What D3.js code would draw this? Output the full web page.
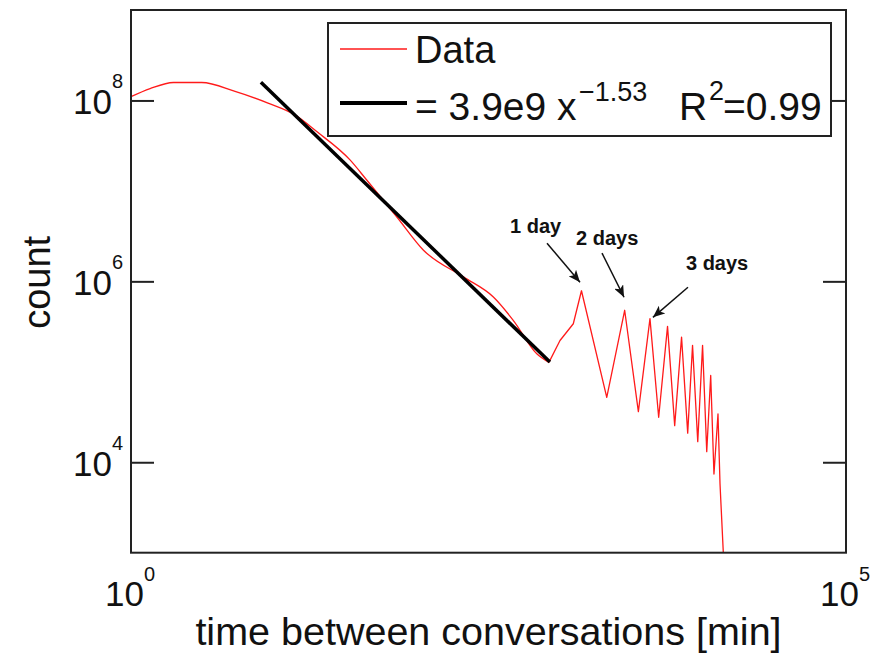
<!DOCTYPE html>
<html>
<head>
<meta charset="utf-8">
<script src="https://cdn.jsdelivr.net/npm/d3@7"></script>
<style>
  body { margin: 0; background: #fff; }
  text { font-family: "Liberation Sans", Arial, sans-serif; fill: #111; }
</style>
</head>
<body>
<div class="chart"></div>
<script>
// time between conversations [min] and count
const minutes = [1, 1.36, 1.98, 3.12, 5.34, 9.08, 14.0, 19.9, 34.0, 44.5, 72.1, 111, 211, 342, 471, 688, 837,
  1000, 1239, 1413, 2123, 2833, 3532, 4258, 4898, 5649, 6339, 7080, 7816, 8450, 9190, 9930, 10620,
  11320, 11930, 12730, 13150, 13870];
const counts = [1.1e8, 1.35e8, 1.58e8, 1.58e8, 1.26e8, 9.36e7, 6.93e7, 4.53e7, 2.2e7, 1.32e7, 5.18e6, 2.21e6,
  1.12e6, 6.71e5, 3.71e5, 1.58e5, 1.27e5, 2.22e5, 3.4e5, 7.87e5, 5.22e4, 4.79e5, 3.63e4, 3.87e5, 3.14e4,
  3.18e5, 2.54e4, 2.42e5, 2.1e4, 1.96e5, 1.69e4, 1.96e5, 1.31e4, 9.1e4, 7.4e3, 3.42e4, 5.78e3, 1000];
// the smooth decay ends at this index, the daily peaks follow
const smoothEnd = 16;

// power law fit, endpoints of the drawn segment
const fitX = [8.1, 850];
const fitY = [1.59e8, 1.28e5];

const xTicks = [1, 1e5];
const yTicks = [1e4, 1e6, 1e8];

// annotations: label position, arrow tail and arrow head (data units)
const annoLabels = ["1 day", "2 days", "3 days"];
const annoTextX = [447, 1294, 7603];
const annoTextY = [3.41e6, 2.51e6, 1.33e6];
const arrowFromX = [811, 1967, 7852];
const arrowFromY = [2.64e6, 2.05e6, 8.6e5];
const arrowToX = [1380, 2805, 4467];
const arrowToY = [9.8e5, 6.67e5, 4.0e5];

const width = 885, height = 653;
const margin = { top: 10, right: 39, bottom: 100.3, left: 131 };

const svg = d3.select(".chart")
  .append("svg")
  .attr("width", width)
  .attr("height", height);

const x = d3.scaleLog().domain([1, 1e5]).range([margin.left, width - margin.right]);
const y = d3.scaleLog().domain([1e3, 1e9]).range([height - margin.bottom, margin.top]);

// arrowhead
svg.append("defs")
  .append("marker")
  .attr("id", "head")
  .attr("viewBox", "0 0 12 10")
  .attr("refX", 12)
  .attr("refY", 5)
  .attr("markerWidth", 12)
  .attr("markerHeight", 10)
  .attr("markerUnits", "userSpaceOnUse")
  .attr("orient", "auto")
  .append("path")
  .attr("d", "M0,0 L12,5 L0,10 L3,5 Z")
  .attr("fill", "#111");

const data = minutes.map((m, i) => ({ x: m, y: counts[i] }));

const line = d3.line()
  .x((d) => x(d.x))
  .y((d) => y(d.y));
const smoothLine = d3.line()
  .x((d) => x(d.x))
  .y((d) => y(d.y))
  .curve(d3.curveMonotoneX);

// smooth body of the distribution, then the sharp daily peaks
svg.append("path")
  .datum(data.slice(0, smoothEnd + 1))
  .attr("fill", "none")
  .attr("stroke", "#ff1a1a")
  .attr("stroke-width", 1.3)
  .attr("d", smoothLine);

svg.append("path")
  .datum(data.slice(smoothEnd))
  .attr("fill", "none")
  .attr("stroke", "#ff1a1a")
  .attr("stroke-width", 1.3)
  .attr("stroke-linejoin", "round")
  .attr("d", line);

svg.append("path")
  .datum(fitX.map((v, i) => ({ x: v, y: fitY[i] })))
  .attr("fill", "none")
  .attr("stroke", "#000")
  .attr("stroke-width", 3.5)
  .attr("d", line);

// frame and ticks
svg.append("rect")
  .attr("x", x(1))
  .attr("y", y(1e9))
  .attr("width", x(1e5) - x(1))
  .attr("height", y(1e3) - y(1e9))
  .attr("fill", "none")
  .attr("stroke", "#222")
  .attr("stroke-width", 2);

svg.append("g")
  .attr("transform", "translate(" + x(1) + ",0)")
  .call(d3.axisLeft(y).tickValues(yTicks).tickSize(-23).tickFormat(""))
  .call((g) => g.select(".domain").remove())
  .call((g) => g.selectAll("line").attr("stroke", "#222").attr("stroke-width", 2));

svg.append("g")
  .attr("transform", "translate(" + x(1e5) + ",0)")
  .call(d3.axisRight(y).tickValues(yTicks).tickSize(-23).tickFormat(""))
  .call((g) => g.select(".domain").remove())
  .call((g) => g.selectAll("line").attr("stroke", "#222").attr("stroke-width", 2));

// tick labels with superscript exponents
yTicks.forEach((t) => {
  const lab = svg.append("text")
    .attr("x", x(1) - 8)
    .attr("y", y(t) + 14)
    .attr("text-anchor", "end")
    .style("font-size", "35px");
  lab.append("tspan").text("10");
  lab.append("tspan")
    .attr("dy", -26)
    .style("font-size", "20px")
    .text(Math.round(Math.log10(t)));
});

xTicks.forEach((t) => {
  const lab = svg.append("text")
    .attr("x", x(t) - 1)
    .attr("y", 606)
    .attr("text-anchor", "middle")
    .style("font-size", "35px");
  lab.append("tspan").text("10");
  lab.append("tspan")
    .attr("dy", -25)
    .style("font-size", "20px")
    .text(Math.round(Math.log10(t)));
});

// axis titles
svg.append("text")
  .attr("x", (x(1) + x(1e5)) / 2)
  .attr("y", 645)
  .attr("text-anchor", "middle")
  .style("font-size", "39.5px")
  .text("time between conversations [min]");

svg.append("text")
  .attr("transform", "translate(50," + (y(1e6) + 1) + ") rotate(-90)")
  .attr("text-anchor", "middle")
  .style("font-size", "38px")
  .text("count");

// annotations
annoLabels.forEach((label, i) => {
  svg.append("text")
    .attr("x", x(annoTextX[i]))
    .attr("y", y(annoTextY[i]))
    .style("font-size", "20px")
    .style("font-weight", "bold")
    .text(label);
  svg.append("line")
    .attr("x1", x(arrowFromX[i]))
    .attr("y1", y(arrowFromY[i]))
    .attr("x2", x(arrowToX[i]))
    .attr("y2", y(arrowToY[i]))
    .attr("stroke", "#111")
    .attr("stroke-width", 1.5)
    .attr("marker-end", "url(#head)");
});

// legend
const legend = svg.append("g").attr("class", "legend");
legend.append("rect")
  .attr("x", 328)
  .attr("y", 23)
  .attr("width", 503)
  .attr("height", 113)
  .attr("fill", "#fff")
  .attr("stroke", "#222")
  .attr("stroke-width", 2);

legend.append("line")
  .attr("x1", 340).attr("x2", 407)
  .attr("y1", 49).attr("y2", 49)
  .attr("stroke", "#ff1a1a")
  .attr("stroke-width", 1.3);
legend.append("text")
  .attr("x", 415)
  .attr("y", 63)
  .style("font-size", "38px")
  .text("Data");

legend.append("line")
  .attr("x1", 340).attr("x2", 407)
  .attr("y1", 103).attr("y2", 103)
  .attr("stroke", "#000")
  .attr("stroke-width", 4);
const fitLabel = legend.append("text")
  .attr("y", 120)
  .style("font-size", "39px");
fitLabel.append("tspan").attr("x", 415).text("= 3.9e9 x");
fitLabel.append("tspan").attr("x", 579).attr("y", 101).style("font-size", "27px").text("\u22121.53");
fitLabel.append("tspan").attr("x", 679).attr("y", 120).text("R");
fitLabel.append("tspan").attr("x", 709).attr("y", 100).style("font-size", "27px").text("2");
fitLabel.append("tspan").attr("x", 723).attr("y", 120).text("=0.99");
</script>
</body>
</html>
